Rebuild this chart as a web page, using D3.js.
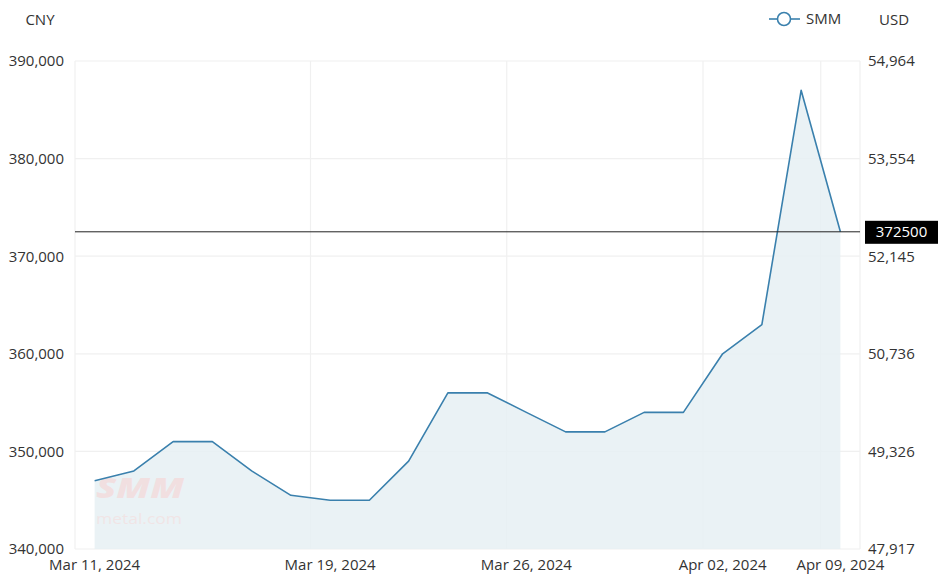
<!DOCTYPE html>
<html><head><meta charset="utf-8">
<script src="https://cdn.jsdelivr.net/npm/d3@7"></script>
<style>
html,body{margin:0;padding:0;background:#fff;}
svg{display:block;font-family:"Open Sans","Noto Sans",sans-serif;}
</style></head>
<body><svg id="c" width="943" height="583"></svg>
<script>
const dates = ["Mar 11, 2024","Mar 12, 2024","Mar 13, 2024","Mar 14, 2024","Mar 15, 2024","Mar 18, 2024","Mar 19, 2024","Mar 20, 2024","Mar 21, 2024","Mar 22, 2024","Mar 25, 2024","Mar 26, 2024","Mar 27, 2024","Mar 28, 2024","Mar 29, 2024","Apr 01, 2024","Apr 02, 2024","Apr 03, 2024","Apr 08, 2024","Apr 09, 2024"];
const smm = [347000,348000,351000,351000,348000,345500,345000,345000,349000,356000,356000,354000,352000,352000,354000,354000,360000,363000,387000,372500];
const tickDates = ["Mar 11, 2024","Mar 19, 2024","Mar 26, 2024","Apr 02, 2024","Apr 09, 2024"];
const cnyTicks = [340000,350000,360000,370000,380000,390000];
const usdTicks = [47917,49326,50736,52145,53554,54964];
const lastValue = 372500;

const FS = 15;
const FF = "Open Sans, Noto Sans, sans-serif";
const svg = d3.select("#c");
const L=75,R=860,T=61,B=549;
const x = d3.scaleBand().domain(dates).range([L,R]);
const y = d3.scaleLinear().domain([340000,390000]).range([B,T]);
const cx = d => x(d)+x.bandwidth()/2;

// grid
const g = svg.append("g");
g.selectAll("line.h").data(cnyTicks).enter().append("line")
 .attr("x1",L).attr("x2",R).attr("y1",d=>y(d)).attr("y2",d=>y(d))
 .attr("stroke","#f0f0f0").attr("stroke-width",1.2);
const vx = [L, ...tickDates.slice(1).map(d=>x(d)), R];
g.selectAll("line.v").data(vx).enter().append("line")
 .attr("x1",d=>d).attr("x2",d=>d).attr("y1",T).attr("y2",B)
 .attr("stroke","#f0f0f0").attr("stroke-width",1.2);

// area + line
const area = d3.area().x((d,i)=>cx(dates[i])).y0(B).y1(d=>y(d));
svg.append("path").datum(smm).attr("d",area).attr("fill","#e6f0f3").attr("fill-opacity",0.85);

// watermark
svg.append("text").attr("x",96).attr("y",498)
 .attr("font-size",28).attr("font-weight",900).attr("font-style","italic")
 .attr("textLength",88).attr("lengthAdjust","spacingAndGlyphs")
 .attr("fill","#f3dcdd").attr("fill-opacity",0.85).text("SMM");
svg.append("text").attr("x",96).attr("y",524)
 .attr("font-size",15).attr("textLength",86).attr("lengthAdjust","spacingAndGlyphs")
 .attr("fill","#f2e2e3").attr("fill-opacity",0.85).text("metal.com");

const line = d3.line().x((d,i)=>cx(dates[i])).y(d=>y(d));
svg.append("path").datum(smm).attr("d",line).attr("fill","none")
 .attr("stroke","#3a80ad").attr("stroke-width",1.6).attr("stroke-linejoin","round");

// mark line
svg.append("line").attr("x1",L).attr("x2",R).attr("y1",y(lastValue)).attr("y2",y(lastValue))
 .attr("stroke","#222").attr("stroke-width",1);
svg.append("rect").attr("x",865).attr("y",y(lastValue)-11).attr("width",73).attr("height",23).attr("fill","#000");
svg.append("text").attr("x",901.5).attr("y",y(lastValue)+5.5).attr("text-anchor","middle")
 .attr("font-size",FS).attr("fill","#fff").text(String(lastValue));

// axes
const yl = d3.axisLeft(y).tickValues(cnyTicks).tickFormat(d3.format(",")).tickSize(0).tickPadding(11);
const ylg = svg.append("g").attr("transform",`translate(${L},0)`).call(yl);
ylg.select(".domain").remove();
ylg.selectAll("text").attr("font-size",FS).attr("fill","#333").attr("font-family",FF);

const yr = d3.scaleLinear().domain([usdTicks[0],usdTicks[usdTicks.length-1]]).range([B,T]);
const yrA = d3.axisRight(yr).tickValues(usdTicks).tickFormat(d3.format(",")).tickSize(0).tickPadding(8);
const yrg = svg.append("g").attr("transform",`translate(${R},0)`).call(yrA);
yrg.select(".domain").remove();
yrg.selectAll("text").attr("font-size",FS).attr("fill","#333").attr("font-family",FF);

const xa = d3.axisBottom(x).tickValues(tickDates).tickSize(0).tickPadding(10);
const xg = svg.append("g").attr("transform",`translate(0,${B})`).call(xa);
xg.select(".domain").remove();
xg.selectAll("text").attr("font-size",FS).attr("fill","#333").attr("font-family",FF);

// titles
svg.append("text").attr("x",40).attr("y",25).attr("text-anchor","middle").attr("font-size",FS).attr("fill","#333").text("CNY");
svg.append("text").attr("x",894).attr("y",25).attr("text-anchor","middle").attr("font-size",FS).attr("fill","#333").text("USD");
// legend
svg.append("line").attr("x1",769).attr("x2",800).attr("y1",19).attr("y2",19).attr("stroke","#3a80ad").attr("stroke-width",1.6);
svg.append("circle").attr("cx",784).attr("cy",19).attr("r",6.5).attr("fill","#fff").attr("stroke","#3a80ad").attr("stroke-width",1.6);
svg.append("text").attr("x",806).attr("y",24).attr("font-size",FS).attr("fill","#333").text("SMM");
</script></body></html>
